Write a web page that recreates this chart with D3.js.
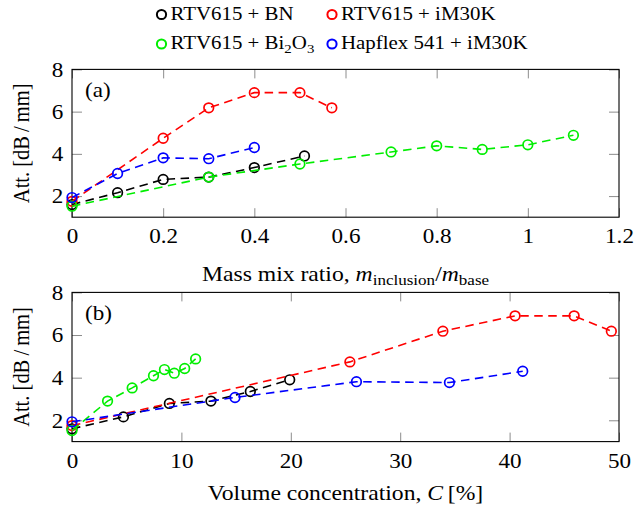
<!DOCTYPE html>
<html>
<head>
<meta charset="utf-8">
<script src="https://cdn.jsdelivr.net/npm/d3@7"></script>
<style>
  html, body { margin: 0; padding: 0; background: #fff; }
  svg { display: block; }
</style>
</head>
<body>
<svg id="chart" width="636" height="511"></svg>
<script>
// Series names and colours
const seriesNames = ["RTV615 + BN", "RTV615 + iM30K", "RTV615 + Bi2O3", "Hapflex 541 + iM30K"];
const seriesColors = ["#000000", "#ff0000", "#00ee00", "#0000ff"];

// Attenuation values [dB/mm]
const attBN     = [1.60, 2.16, 2.79, 2.90, 3.35, 3.90];
const attIM30K  = [1.75, 4.74, 6.18, 6.90, 6.90, 6.18];
const attBi2O3  = [1.52, 2.90, 3.52, 4.09, 4.38, 4.21, 4.43, 4.88];
const attHapfl  = [1.93, 3.07, 3.81, 3.77, 4.30];

// Mass mix ratio m_inclusion / m_base
const massBN    = [0, 0.1, 0.2, 0.3, 0.4, 0.51];
const massIM30K = [0, 0.2, 0.3, 0.4, 0.5, 0.57];
const massBi2O3 = [0, 0.3, 0.5, 0.7, 0.8, 0.9, 1.0, 1.1];
const massHapfl = [0, 0.1, 0.2, 0.3, 0.4];

// Volume concentration C [%]
const volBN     = [0, 4.7, 8.9, 12.7, 16.3, 19.9];
const volIM30K  = [0, 25.4, 33.9, 40.5, 45.9, 49.3];
const volBi2O3  = [0, 3.25, 5.5, 7.45, 8.45, 9.35, 10.3, 11.3];
const volHapfl  = [0, 14.9, 26.0, 34.5, 41.2];

// Tick values
const yTicks  = [2, 4, 6, 8];
const xTicksA = [0, 0.2, 0.4, 0.6, 0.8, 1, 1.2];
const xTicksB = [0, 10, 20, 30, 40, 50];

const FAMILY = "'Liberation Serif', 'Times New Roman', Times, 'DejaVu Serif', serif";
const FONT = 21;
const SX = 1.1; // horizontal stretch of the typeset text

const svg = d3.select("#chart").attr("font-family", FAMILY);

function zipSeries(xs) {
  const atts = [attBN, attIM30K, attBi2O3, attHapfl];
  return xs.map((xv, i) => xv.map((x, j) => ({x, y: atts[i][j]})));
}

function panel(opts) {
  const {x, y, series, xTicks, xFmt, label} = opts;
  const g = svg.append("g");
  const [x0, x1] = x.range();
  const [y0, y1] = y.range();

  // tick marks on all four sides, pointing inward
  const tickStyle = sel => {
    sel.attr("font-family", FAMILY).attr("font-size", FONT);
    sel.select(".domain").remove();
    sel.selectAll(".tick line").attr("stroke", "#8c8c8c").attr("stroke-width", 1);
  };
  const bottom = g.append("g").attr("transform", `translate(0,${y0})`)
    .call(d3.axisBottom(x).tickValues(xTicks).tickFormat(xFmt).tickSizeInner(-9).tickSizeOuter(0).tickPadding(11))
    .call(tickStyle);
  bottom.selectAll(".tick text")
    .attr("fill", "#000")
    .attr("transform", `scale(${SX},1)`);
  g.append("g").attr("transform", `translate(0,${y1})`)
    .call(d3.axisTop(x).tickValues(xTicks).tickFormat("").tickSizeInner(-9).tickSizeOuter(0))
    .call(tickStyle);
  const left = g.append("g").attr("transform", `translate(${x0},0)`)
    .call(d3.axisLeft(y).tickValues(yTicks).tickFormat(d3.format("d")).tickSizeInner(-10).tickSizeOuter(0).tickPadding(8))
    .call(tickStyle);
  left.selectAll(".tick text")
    .attr("fill", "#000")
    .attr("transform", `scale(${SX},1)`);
  g.append("g").attr("transform", `translate(${x1},0)`)
    .call(d3.axisRight(y).tickValues(yTicks).tickFormat("").tickSizeInner(-10).tickSizeOuter(0))
    .call(tickStyle);

  // frame
  g.append("rect")
    .attr("x", x0).attr("y", y1)
    .attr("width", x1 - x0).attr("height", y0 - y1)
    .attr("fill", "none").attr("stroke", "#000").attr("stroke-width", 1.1);

  // series: dashed lines with open circle markers
  const line = d3.line().x(d => x(d.x)).y(d => y(d.y));
  series.forEach((pts, i) => {
    const s = g.append("g");
    s.append("path").datum(pts)
      .attr("d", line)
      .attr("fill", "none")
      .attr("stroke", seriesColors[i])
      .attr("stroke-width", 1.6)
      .attr("stroke-dasharray", "8.5,5.5");
    s.selectAll("circle").data(pts).join("circle")
      .attr("cx", d => x(d.x)).attr("cy", d => y(d.y))
      .attr("r", 4.8)
      .attr("fill", "none")
      .attr("stroke", seriesColors[i])
      .attr("stroke-width", 1.7);
  });

  // panel label
  g.append("text")
    .attr("transform", `translate(${x0 + 13},${y1 + 28}) scale(${SX},1)`)
    .attr("font-size", FONT)
    .text(label);

  // y axis title
  g.append("text")
    .attr("transform", `translate(29,${(y0 + y1) / 2}) rotate(-90) scale(1,${SX})`)
    .attr("text-anchor", "middle")
    .attr("font-size", 20.5)
    .text("Att. [dB\u2009/\u2009mm]");
  return g;
}

// (a) attenuation against mass mix ratio
const xA = d3.scaleLinear().domain([0, 1.2]).range([72, 619]);
const yA = d3.scaleLinear().domain([1, 8]).range([217.2, 69.4]);
panel({
  x: xA, y: yA,
  series: zipSeries([massBN, massIM30K, massBi2O3, massHapfl]),
  xTicks: xTicksA, xFmt: d => d3.format("")(+d.toFixed(1)),
  label: "(a)"
});

// (b) attenuation against volume concentration
const xB = d3.scaleLinear().domain([0, 50]).range([72, 619]);
const yB = d3.scaleLinear().domain([1, 8]).range([441.6, 292.4]);
panel({
  x: xB, y: yB,
  series: zipSeries([volBN, volIM30K, volBi2O3, volHapfl]),
  xTicks: xTicksB, xFmt: d3.format("d"),
  label: "(b)"
});

// x axis titles
const tA = svg.append("text")
  .attr("transform", `translate(${(72 + 619) / 2},281) scale(${SX},1)`)
  .attr("text-anchor", "middle").attr("font-size", 21.5);
tA.append("tspan").text("Mass mix ratio, ");
tA.append("tspan").attr("font-style", "italic").text("m");
tA.append("tspan").attr("font-size", 15.5).attr("dy", 4).text("inclusion");
tA.append("tspan").attr("dy", -4).text("/");
tA.append("tspan").attr("font-style", "italic").text("m");
tA.append("tspan").attr("font-size", 15.5).attr("dy", 4).text("base");

const tB = svg.append("text")
  .attr("transform", `translate(${(72 + 619) / 2},500) scale(${SX},1)`)
  .attr("text-anchor", "middle").attr("font-size", 21.5);
tB.append("tspan").text("Volume concentration, ");
tB.append("tspan").attr("font-style", "italic").text("C");
tB.append("tspan").text("\u2009[%]");

// legend (two rows, two columns)
const legendPos = [[161.5, 14.5], [332, 14.5], [161.5, 44], [332, 44]];
const legend = svg.append("g");
seriesNames.forEach((name, i) => {
  const [cx, cy] = legendPos[i];
  legend.append("circle")
    .attr("cx", cx).attr("cy", cy).attr("r", 4.6)
    .attr("fill", "none").attr("stroke", seriesColors[i]).attr("stroke-width", 2);
  const t = legend.append("text")
    .attr("transform", `translate(${cx + 9},${cy + 5}) scale(${SX},1)`)
    .attr("font-size", 19);
  const m = name.match(/^(.*Bi)2O3$/);
  if (m) {
    t.append("tspan").text(m[1]);
    t.append("tspan").attr("font-size", 13.5).attr("dy", 4).text("2");
    t.append("tspan").attr("dy", -4).text("O");
    t.append("tspan").attr("font-size", 13.5).attr("dy", 4).text("3");
  } else {
    t.text(name);
  }
});
</script>
</body>
</html>
